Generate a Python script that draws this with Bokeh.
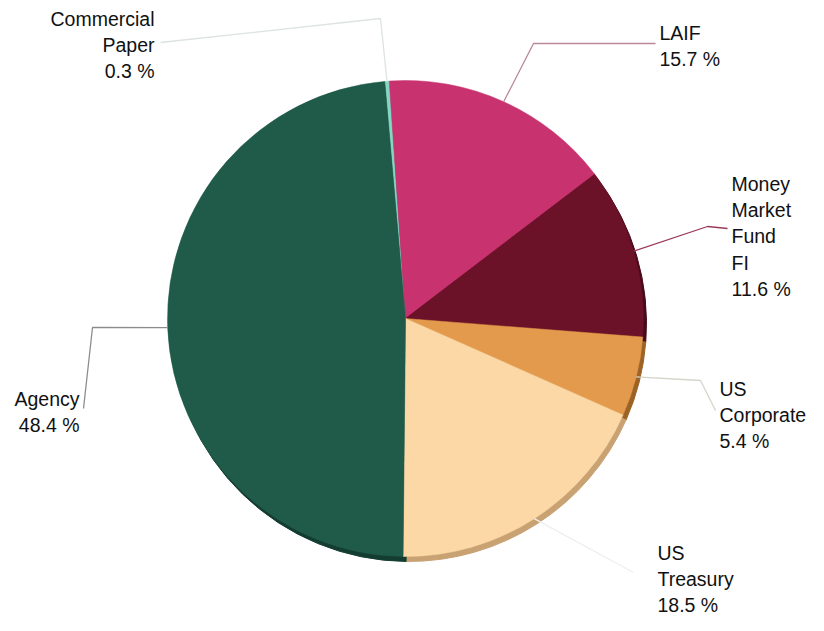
import math
from bokeh.plotting import figure
from bokeh.models import Range1d, ColumnDataSource
from bokeh.core.properties import value
from bokeh.embed import file_html
from bokeh.resources import INLINE

# ---- data ----
categories = ["Commercial\nPaper", "LAIF", "Money\nMarket\nFund\nFI", "US\nCorporate", "US\nTreasury", "Agency"]
percents = [0.3, 15.7, 11.6, 5.4, 18.5, 48.4]
pct_labels = ["0.3 %", "15.7 %", "11.6 %", "5.4 %", "18.5 %", "48.4 %"]

# ---- styles / layout ----
colors = ["#86d6c4", "#c8336f", "#6b1128", "#e39a4d", "#fbd8a6", "#1f5b48"]
shade = ["#5aa895", "#8e2350", "#470a1a", "#9c6226", "#c9a273", "#143d31"]
leader_colors = ["#dde2e2", "#b9889b", "#9a3c58", "#d4d4c8", "#eceff0", "#8c8c8c"]
label_anchor = [(154, 7, "right"), (659, 21, "left"), (731, 172, "left"),
                (719, 377, "left"), (657, 541, "left"), (79, 387, "right")]
leader_mid = [[(380, 18), (160, 42)],
              [(533, 43), (655, 43)],
              [(707, 226), (727, 228)],
              [(700, 380), (715, 410)],
              [(633, 572)],
              [(92, 327), (83, 408)]]

W, H = 808, 615              # canvas size fitting the window
CX, CY, R = 405, 318, 238
START_DEG = 95.0  # first slice starts slightly left of top, goes clockwise

def Y(y):  # layout y (top-down) -> data y
    return H - y

p = figure(width=W, height=H, output_backend="svg", toolbar_location=None,
           x_range=Range1d(0, W), y_range=Range1d(0, H),
           min_border=0, outline_line_color=None)
p.axis.visible = False
p.grid.visible = False
p.background_fill_color = "white"
p.border_fill_color = "white"

total = sum(percents)
starts, ends, mids = [], [], []
a = math.radians(START_DEG)
for v in percents:
    span = v / total * 2 * math.pi
    starts.append(a - span)
    ends.append(a)
    mids.append(a - span / 2)
    a -= span

# 3D depth (shadow)
p.wedge(x=CX + 3, y=Y(CY + 5), radius=R, start_angle=starts, end_angle=ends,
        fill_color=shade, line_color=shade, line_width=1)
# main pie
src = ColumnDataSource(dict(start=starts, end=ends, color=colors))
p.wedge(x=CX, y=Y(CY), radius=R, start_angle="start", end_angle="end",
        fill_color="color", line_color="color", line_width=0.5, source=src)

# leader lines
for i, m in enumerate(mids):
    sx = CX + R * math.cos(m)
    sy = CY - R * math.sin(m)
    xs = [sx] + [pt[0] for pt in leader_mid[i]]
    ys = [Y(sy)] + [Y(pt[1]) for pt in leader_mid[i]]
    p.line(xs, ys, line_color=leader_colors[i], line_width=1.3)

# labels
for i, (lx, ly, al) in enumerate(label_anchor):
    p.text(x=[lx], y=[Y(ly)], text=[categories[i] + "\n" + pct_labels[i]],
           text_font=value("Liberation Sans"), text_font_size="19.5px",
           text_color="#111111", text_align=al, text_baseline="top",
           text_line_height=1.2)

open("out.html", "w").write(file_html(p, INLINE))
